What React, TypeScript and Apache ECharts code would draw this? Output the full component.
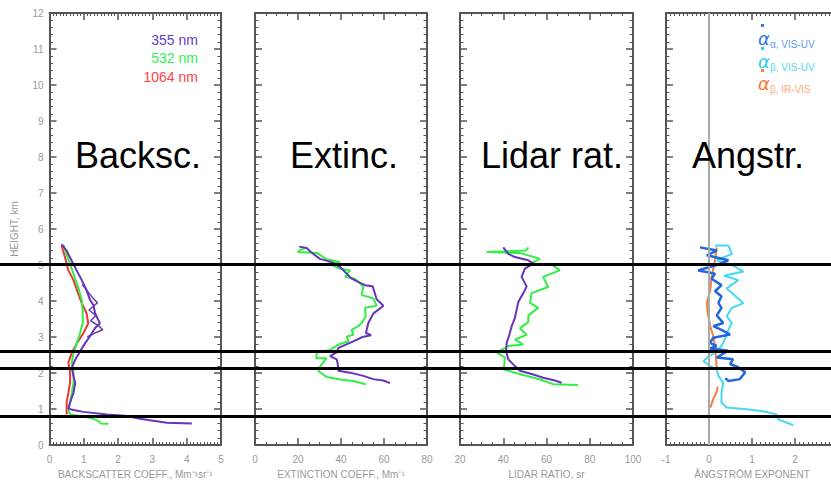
import React, { useEffect, useRef } from "react";
import * as echarts from "echarts";

// ---- data: [value, height km] ----
const bsc355: number[][] = [
  [0.35, 5.57], [0.5, 5.4], [0.65, 5.11], [0.79, 4.85], [0.94, 4.58], [1.08, 4.3], [1.18, 4.03], [1.28, 3.89],
  [1.33, 3.66], [1.47, 3.38], [1.33, 3.25], [1.18, 3.02], [1.04, 2.83], [0.89, 2.6], [0.75, 2.37], [0.65, 2.14],
  [0.7, 1.91], [0.75, 1.73], [0.7, 1.45], [0.6, 1.18], [0.55, 1.01], [0.7, 0.97], [0.99, 0.92], [1.67, 0.85],
  [2.2, 0.81], [2.64, 0.73], [3.42, 0.62], [4.15, 0.6],
];
const bsc355b: number[][] = [
  [0.95, 4.45], [1.0, 4.4], [1.25, 4.1], [1.4, 3.95], [1.15, 3.75], [1.35, 3.6], [1.2, 3.45], [1.45, 3.3],
  [1.55, 3.2], [1.3, 3.1], [1.1, 3.0],
];
const bsc532: number[][] = [
  [0.4, 5.57], [0.49, 5.31], [0.63, 4.94], [0.73, 4.67], [0.83, 4.4], [0.94, 4.03], [0.97, 3.66], [0.97, 3.38],
  [0.89, 3.11], [0.8, 2.83], [0.7, 2.56], [0.65, 2.29], [0.7, 2.01], [0.7, 1.73], [0.65, 1.45], [0.6, 1.18],
  [0.55, 0.95], [0.6, 0.85], [1.18, 0.76], [1.42, 0.67], [1.5, 0.6], [1.72, 0.59],
];
const bsc1064: number[][] = [
  [0.35, 5.54], [0.45, 5.22], [0.55, 4.85], [0.7, 4.58], [0.8, 4.3], [0.94, 3.94], [1.08, 3.66], [1.13, 3.38],
  [0.99, 3.11], [0.8, 2.83], [0.65, 2.56], [0.55, 2.29], [0.6, 2.01], [0.6, 1.73], [0.55, 1.45], [0.5, 1.18],
  [0.5, 0.99], [0.5, 0.85],
];
const ext355: number[][] = [
  [20.6, 5.51], [24, 5.47], [26, 5.36], [30.2, 5.17], [35.7, 5.08], [39.5, 4.95], [42.6, 4.76], [45, 4.62],
  [48, 4.53], [51.2, 4.44], [54.7, 4.41], [55.8, 4.2], [56.6, 4.05], [59.7, 3.87], [55, 3.65], [52.7, 3.39],
  [51.6, 3.11], [54, 3.05], [50, 3.0], [45.7, 2.88], [38.8, 2.7], [38, 2.57], [34.9, 2.47], [38, 2.38],
  [38.5, 2.25], [38.8, 2.06], [44.2, 2.01], [50.4, 1.92], [55, 1.83], [59.7, 1.79], [62.8, 1.72],
];
const ext532: number[][] = [
  [23.5, 5.47], [21, 5.42], [19.9, 5.36], [29, 5.33], [33, 5.17], [39.5, 5.08], [34.1, 5.04], [39.5, 4.9],
  [44.2, 4.85], [41.9, 4.67], [46.5, 4.62], [50.4, 4.4], [49.6, 4.17], [55, 4.07], [56.6, 3.87], [51.2, 3.81],
  [51.5, 3.57], [49.6, 3.39], [48, 3.3], [45, 3.2], [45.7, 3.06], [42.6, 3.01], [43.5, 2.88], [38.8, 2.79],
  [34.9, 2.64], [28.7, 2.57], [28.5, 2.41], [33.3, 2.41], [30.2, 2.17], [29.4, 2.06], [33.3, 1.89], [39.5, 1.82],
  [45.7, 1.78], [51.6, 1.69],
];
const lr355: number[][] = [
  [40, 5.49], [42.3, 5.31], [45.4, 5.22], [51.6, 5.13], [53.9, 5.04], [50, 4.9], [48.5, 4.67], [50.8, 4.4],
  [49.3, 4.22], [47, 3.98], [46.2, 3.76], [45.4, 3.53], [43.9, 3.3], [42.8, 3.06], [41.6, 2.84], [41.3, 2.61],
  [42.3, 2.38], [44.6, 2.24], [47.7, 2.06], [53.9, 1.96], [58.5, 1.87], [63.9, 1.79], [67, 1.73],
];
const lr532: number[][] = [
  [51.6, 5.49], [50.5, 5.4], [32.3, 5.36], [48, 5.33], [57, 5.17], [53, 5.05], [63, 4.99], [66.1, 4.85],
  [58.4, 4.67], [60.8, 4.39], [53.1, 4.22], [52.4, 3.95], [56.2, 3.81], [51.6, 3.6], [51.6, 3.42], [47.7, 3.24],
  [50.8, 3.06], [45.4, 2.93], [49.2, 2.79], [42.3, 2.75], [36.9, 2.57], [40.8, 2.43], [40.5, 2.24], [40, 2.1],
  [48.5, 1.96], [57, 1.82], [63, 1.69], [74.5, 1.67],
];
const angExtVisUv: number[][] = [
  [-0.21, 5.49], [0.18, 5.4], [-0.05, 5.27], [0.45, 5.13], [0.18, 5.0], [-0.25, 4.85], [0.14, 4.76], [0.06, 4.62],
  [0.29, 4.44], [0.14, 4.27], [0.29, 4.13], [0.22, 3.95], [0.29, 3.81], [0.18, 3.6], [0.33, 3.39], [0.1, 3.3],
  [0.29, 3.2], [0.49, 3.07], [0.1, 2.98], [0.02, 2.84], [0.18, 2.75], [0.02, 2.68], [0.45, 2.62], [0.18, 2.43],
  [0.56, 2.38], [0.49, 2.25], [0.68, 2.16], [0.84, 2.02], [0.72, 1.83], [0.45, 1.78], [0.38, 1.86],
];
const angBscVisUv: number[][] = [
  [0.14, 5.54], [0.45, 5.54], [0.53, 5.31], [0.18, 5.13], [0.53, 5.0], [0.8, 4.82], [0.35, 4.7], [0.68, 4.58],
  [0.41, 4.35], [0.6, 4.15], [0.8, 3.94], [0.53, 3.81], [0.41, 3.57], [0.53, 3.39], [0.45, 3.2], [0.37, 2.94],
  [0.29, 2.75], [0.14, 2.57], [-0.02, 2.45], [-0.13, 2.33], [0.02, 2.2], [0.18, 2.1], [0.22, 1.92], [0.33, 1.73],
  [0.29, 1.45], [0.29, 1.18], [0.41, 1.04], [0.87, 0.99], [1.26, 0.94], [1.57, 0.85], [1.61, 0.71], [1.96, 0.55],
];
const angBscIrVisUpper: number[][] = [
  [0.18, 5.49], [0.14, 5.13], [0.06, 4.67], [0.03, 4.3], [-0.05, 3.95], [-0.03, 3.67], [0.03, 3.3], [0.1, 3.02],
  [0.14, 2.75], [0.16, 2.45], [0.18, 2.1],
];
const angBscIrVisLower: number[][] = [[0.2, 1.62], [0.18, 1.48], [0.1, 1.28], [0.03, 1.04]];

const layerBounds = [5.11, 2.72, 2.25, 0.94];

const heightMin = 0;
const heightMax = 12;

const panelTitles = ["Backsc.", "Extinc.", "Lidar rat.", "Angstr."];
const xNames = [
  "BACKSCATTER COEFF., Mm\u207B\u00B9sr\u207B\u00B9",
  "EXTINCTION COEFF., Mm\u207B\u00B9",
  "LIDAR RATIO, sr",
  "\u00C5NGSTR\u00D6M EXPONENT",
];
const xRanges = [
  { min: 0, max: 5, interval: 1, minor: 10, showMax: true },
  { min: 0, max: 80, interval: 20, minor: 4, showMax: true },
  { min: 20, max: 100, interval: 20, minor: 4, showMax: true },
  { min: -1, max: 3, interval: 1, minor: 10, showMax: false },
];

const C355 = "#6633bb";
const C532 = "#33ee44";
const C1064 = "#ee3333";
const CBLUE = "#2266dd";
const CCYAN = "#44d8f2";
const CORANGE = "#f5803e";

const CHART_W = 850;
const grids = [
  { left: 49.5, width: 171.5, top: 13, bottom: 34 },
  { left: 255, width: 172, top: 13, bottom: 34 },
  { left: 460, width: 173, top: 13, bottom: 34 },
  { left: 666, width: 172, top: 13, bottom: 34 },
  { left: 0, width: 831, top: 13, bottom: 34 },
];

const AX = "#555";
const LBL = "#999";

function xAxes(i: number) {
  const r = xRanges[i];
  const base = {
    gridIndex: i,
    type: "value",
    min: r.min,
    max: r.max,
    interval: r.interval,
    splitLine: { show: false },
    axisLine: { show: true, onZero: false, lineStyle: { color: AX, width: 2 } },
    axisTick: { show: true, inside: true, length: 7, lineStyle: { color: AX, width: 1.5 } },
    minorTick: { show: true, splitNumber: r.minor, length: 3, lineStyle: { color: AX, width: 1 } },
  };
  return [
    {
      ...base,
      position: "bottom",
      axisLabel: { color: LBL, fontSize: 10, margin: 9, fontFamily: "Liberation Sans", showMaxLabel: r.showMax },
      name: xNames[i],
      nameLocation: "middle",
      nameGap: 24,
      nameTextStyle: { color: LBL, fontSize: 10, fontFamily: "Liberation Sans" },
    },
    { ...base, position: "top", axisLabel: { show: false } },
  ];
}

function yAxes(i: number) {
  const base = {
    gridIndex: i,
    type: "value",
    min: heightMin,
    max: heightMax,
    interval: 1,
    splitLine: { show: false },
    axisLine: { show: true, onZero: false, lineStyle: { color: AX, width: 2 } },
    axisTick: { show: true, inside: true, length: 7, lineStyle: { color: AX, width: 1.5 } },
    minorTick: { show: true, splitNumber: 5, length: 3.5, lineStyle: { color: AX, width: 1 } },
  };
  return [
    {
      ...base,
      position: "left",
      axisLabel: { show: i === 0, color: LBL, fontSize: 10, margin: 6, fontFamily: "Liberation Sans" },
      name: i === 0 ? "HEIGHT, km" : "",
      nameLocation: "middle",
      nameGap: 30,
      nameTextStyle: { color: LBL, fontSize: 10, fontFamily: "Liberation Sans" },
    },
    { ...base, position: "right", axisLabel: { show: false } },
  ];
}

function lineSeries(panel: number, data: number[][], color: string, width = 2) {
  return {
    type: "line",
    xAxisIndex: panel * 2,
    yAxisIndex: panel * 2,
    data,
    showSymbol: false,
    symbol: "none",
    lineStyle: { color, width },
    z: 3,
  };
}

export default function App() {
  const ref = useRef<HTMLDivElement>(null);
  useEffect(() => {
    if (!ref.current) return;
    const chart = echarts.init(ref.current, null, { renderer: "svg" });
    const xAx: any[] = [];
    const yAx: any[] = [];
    for (let i = 0; i < 4; i++) {
      xAx.push(...xAxes(i));
      yAx.push(...yAxes(i));
    }
    xAx.push({ gridIndex: 4, type: "value", min: 0, max: 1, show: false });
    yAx.push({ gridIndex: 4, type: "value", min: heightMin, max: heightMax, show: false });

    const titleFont = '36px "Liberation Sans", Arial, sans-serif';
    const titleX = [75, 290, 481, 692];
    const graphic: any[] = panelTitles.map((t, i) => ({
      type: "text",
      x: titleX[i],
      y: 137,
      z: 10,
      style: { text: t, font: titleFont, fill: "#000" },
    }));
    const leg = [
      { t: "355 nm", c: "#6a3cc4", y: 40 },
      { t: "532 nm", c: "#33ee55", y: 58 },
      { t: "1064 nm", c: "#ff4444", y: 77 },
    ];
    leg.forEach((l) =>
      graphic.push({
        type: "text",
        x: 198,
        y: l.y,
        z: 10,
        style: { text: l.t, fill: l.c, font: '14px "Liberation Sans", Arial', align: "right", verticalAlign: "middle" },
      })
    );
    const aleg = [
      { sub: "\u03B1, VIS-UV", c: "#3377ee", c2: "#6699ee", y: 38 },
      { sub: "\u03B2, VIS-UV", c: "#33ccee", c2: "#55d8f0", y: 61 },
      { sub: "\u03B2, IR-VIS", c: "#ff7733", c2: "#ffaa77", y: 83 },
    ];
    aleg.forEach((l) => {
      graphic.push({
        type: "text",
        x: 758,
        y: l.y,
        z: 10,
        style: { text: "\u03B1", fill: l.c, font: 'italic 18px "DejaVu Sans", sans-serif', verticalAlign: "middle" },
      });
      graphic.push({
        type: "text",
        x: 770,
        y: l.y + 6,
        z: 10,
        style: { text: l.sub, fill: l.c2, font: '10px "Liberation Sans", Arial', verticalAlign: "middle" },
      });
      graphic.push({ type: "rect", shape: { x: 761, y: l.y - 14, width: 3, height: 3 }, style: { fill: l.c }, z: 10 });
    });

    chart.setOption({
      animation: false,
      backgroundColor: "#fff",
      grid: grids,
      xAxis: xAx,
      yAxis: yAx,
      graphic,
      series: [
        lineSeries(0, bsc1064, C1064),
        lineSeries(0, bsc532, C532),
        lineSeries(0, bsc355, C355),
        lineSeries(0, bsc355b, C355, 1.5),
        lineSeries(1, ext532, C532),
        lineSeries(1, ext355, C355),
        lineSeries(2, lr532, C532),
        lineSeries(2, lr355, C355),
        {
          ...lineSeries(3, angBscIrVisUpper, CORANGE),
          markLine: {
            silent: true,
            symbol: "none",
            label: { show: false },
            lineStyle: { color: "#aaa", width: 2, type: "solid" },
            data: [{ xAxis: 0 }],
          },
        },
        lineSeries(3, angBscIrVisLower, CORANGE),
        lineSeries(3, angBscVisUv, CCYAN),
        lineSeries(3, angExtVisUv, CBLUE, 2.5),
        {
          type: "line",
          xAxisIndex: 8,
          yAxisIndex: 8,
          data: [[0, 0]],
          symbol: "none",
          lineStyle: { opacity: 0 },
          z: 20,
          markLine: {
            silent: true,
            symbol: "none",
            label: { show: false },
            lineStyle: { color: "#000", width: 3, type: "solid" },
            data: layerBounds.map((h) => ({ yAxis: h })),
          },
        },
      ],
    });
    return () => chart.dispose();
  }, []);
  return (
    <div style={{ position: "absolute", left: 0, top: 0, width: 831, height: 484, overflow: "hidden" }}>
      <div ref={ref} style={{ width: CHART_W, height: 484 }} />
    </div>
  );
}
